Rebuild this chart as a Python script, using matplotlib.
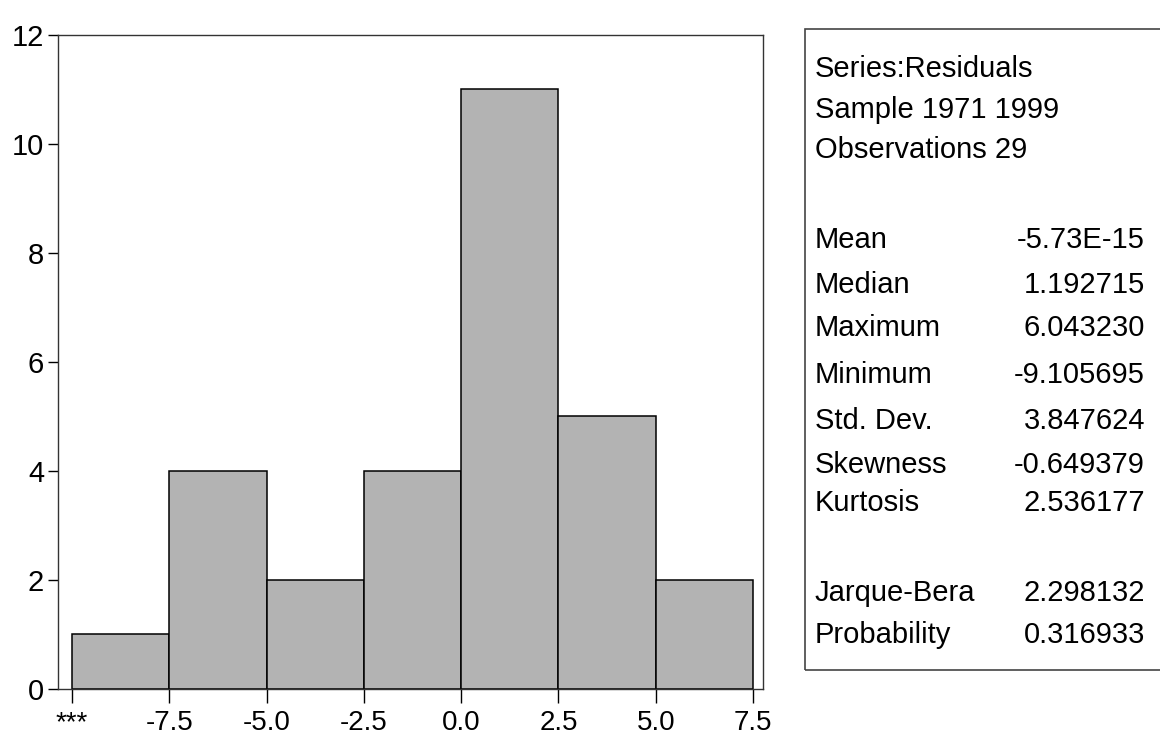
import numpy as np
import matplotlib.pyplot as plt
from matplotlib.patches import Rectangle

# histogram of residuals, bins of width 2.5
bin_edges = [-10.0, -7.5, -5.0, -2.5, 0.0, 2.5, 5.0, 7.5]
counts = [1, 4, 2, 4, 11, 5, 2]
xtick_labels = ['***', '-7.5', '-5.0', '-2.5', '0.0', '2.5', '5.0', '7.5']
yticks = [0, 2, 4, 6, 8, 10, 12]

header_lines = ['Series:Residuals', 'Sample 1971 1999', 'Observations 29']
stat_names = ['Mean', 'Median', 'Maximum', 'Minimum', 'Std. Dev.', 'Skewness', 'Kurtosis']
stat_values = ['-5.73E-15', '1.192715', '6.043230', '-9.105695', '3.847624', '-0.649379', '2.536177']
test_names = ['Jarque-Bera', 'Probability']
test_values = ['2.298132', '0.316933']

W, H = 1160, 739
plt.rcParams['font.family'] = ['Liberation Sans', 'DejaVu Sans']

fig = plt.figure(figsize=(W / 100, H / 100), dpi=100)
ax = fig.add_axes([58 / W, 1 - 689 / H, (763 - 58) / W, (689 - 34.5) / H])

lefts = np.array(bin_edges[:-1])
widths = np.diff(bin_edges)
ax.bar(lefts, counts, width=widths, align='edge', color='#b3b3b3',
       edgecolor='black', linewidth=1.1)

ax.set_xlim(-10.36, 7.757)
ax.set_ylim(0, 12)
ax.set_xticks(bin_edges)
ax.set_xticklabels(xtick_labels)
ax.set_yticks(yticks)
ax.tick_params(axis='x', direction='out', length=10, width=1, labelsize=20, pad=5)
ax.tick_params(axis='y', direction='out', length=7, width=1, labelsize=21, pad=3)
for s in ax.spines.values():
    s.set_color('#333333')
    s.set_linewidth(1)

# stats panel on the right
def px(x, y):
    return x / W, 1 - y / H

box = Rectangle(px(805, 670), (1170 - 805) / W, (670 - 28.5) / H,
                transform=fig.transFigure, fill=False, edgecolor='#444444',
                linewidth=1.2)
fig.patches.append(box)

fs = 21
for txt, y in zip(header_lines, [69, 110, 150]):
    fig.text(*px(815, y), txt, fontsize=fs, va='center', ha='left')

stat_y = [240, 285, 328, 375, 421, 465, 503]
for name, val, y in zip(stat_names, stat_values, stat_y):
    fig.text(*px(815, y), name, fontsize=fs, va='center', ha='left')
    fig.text(*px(1145, y), val, fontsize=fs, va='center', ha='right')

for name, val, y in zip(test_names, test_values, [593, 635]):
    fig.text(*px(815, y), name, fontsize=fs, va='center', ha='left')
    fig.text(*px(1145, y), val, fontsize=fs, va='center', ha='right')

fig.savefig('out.png', dpi=100)
